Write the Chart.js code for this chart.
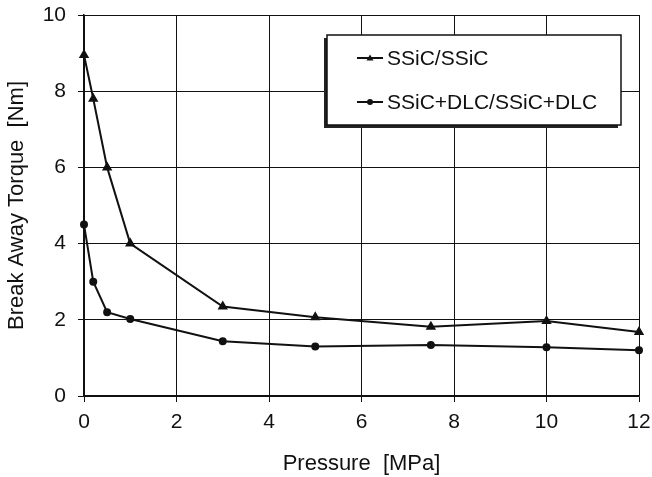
<!DOCTYPE html>
<html>
<head>
<meta charset="utf-8">
<script src="https://cdn.jsdelivr.net/npm/chart.js@4/dist/chart.umd.min.js"></script>
<style>
  html, body { margin: 0; padding: 0; background: #fff; }
  #wrap { width: 652px; height: 477px; }
</style>
</head>
<body>
<div id="wrap"><canvas id="chart" width="652" height="477"></canvas></div>
<script>
// Pressure values [MPa]
const pressure = [0, 0.2, 0.5, 1, 3, 5, 7.5, 10, 12];
// Break away torque [Nm]
const ssic = [8.95, 7.8, 6.0, 4.0, 2.35, 2.07, 1.82, 1.97, 1.68];
const ssicDlc = [4.5, 3.0, 2.2, 2.02, 1.44, 1.3, 1.34, 1.28, 1.2];
const seriesLabels = ['SSiC/SSiC', 'SSiC+DLC/SSiC+DLC'];
const xTicks = [0, 2, 4, 6, 8, 10, 12];
const yTicks = [0, 2, 4, 6, 8, 10];

const FONT = '"Liberation Sans", Arial, sans-serif';
const INK = '#111';

// Boxed legend inside the plot, drawn from the dataset labels
const boxLegend = {
    id: 'boxLegend',
    afterDraw(chart) {
        const ctx = chart.ctx;
        const x0 = 327, y0 = 35, w = 294, h = 90;
        ctx.save();
        ctx.fillStyle = '#222';
        ctx.fillRect(x0 - 3, y0 + 3, w, h);
        ctx.fillStyle = '#fff';
        ctx.fillRect(x0, y0, w, h);
        ctx.strokeStyle = INK;
        ctx.lineWidth = 1.5;
        ctx.strokeRect(x0, y0, w, h);
        chart.data.datasets.forEach((ds, i) => {
            const y = 58 + i * 44;
            ctx.strokeStyle = INK;
            ctx.lineWidth = 2;
            ctx.beginPath();
            ctx.moveTo(357, y);
            ctx.lineTo(383, y);
            ctx.stroke();
            ctx.fillStyle = INK;
            ctx.beginPath();
            if (ds.pointStyle === 'triangle') {
                ctx.moveTo(370, y - 3.5);
                ctx.lineTo(373.5, y + 2.5);
                ctx.lineTo(366.5, y + 2.5);
                ctx.closePath();
            } else {
                ctx.arc(370, y, 3, 0, Math.PI * 2);
            }
            ctx.fill();
            ctx.font = '21px ' + FONT;
            ctx.textBaseline = 'middle';
            ctx.fillText(ds.label, 387, y + 1);
        });
        ctx.restore();
    }
};

const ctx = document.getElementById('chart').getContext('2d');
new Chart(ctx, {
    type: 'line',
    data: {
        datasets: [
            {
                label: seriesLabels[0],
                data: pressure.map((p, i) => ({ x: p, y: ssic[i] })),
                borderColor: INK,
                backgroundColor: INK,
                borderWidth: 2,
                pointStyle: 'triangle',
                pointRadius: 4,
                tension: 0,
                clip: false
            },
            {
                label: seriesLabels[1],
                data: pressure.map((p, i) => ({ x: p, y: ssicDlc[i] })),
                borderColor: INK,
                backgroundColor: INK,
                borderWidth: 2,
                pointStyle: 'circle',
                pointRadius: 3,
                tension: 0,
                clip: false
            }
        ]
    },
    options: {
        responsive: false,
        animation: false,
        layout: { padding: { top: 15, right: 13, left: 0, bottom: 0 } },
        plugins: {
            legend: { display: false },
            tooltip: { enabled: false }
        },
        scales: {
            x: {
                type: 'linear',
                min: 0,
                max: 12,
                afterBuildTicks: s => { s.ticks = xTicks.map(v => ({ value: v })); },
                afterFit: s => { s.height = 81; s.paddingLeft = 0; s.paddingRight = 0; },
                grid: { color: INK, lineWidth: 1, tickLength: 6, tickColor: INK },
                border: { color: INK, width: 1.5 },
                ticks: { color: INK, font: { family: FONT, size: 21 }, padding: 8, maxRotation: 0 },
                title: {
                    display: true,
                    text: 'Pressure  [MPa]',
                    color: INK,
                    font: { family: FONT, size: 22 },
                    padding: { top: 0, bottom: 0 }
                }
            },
            y: {
                min: 0,
                max: 10,
                afterBuildTicks: s => { s.ticks = yTicks.map(v => ({ value: v })); },
                afterFit: s => { s.width = 84; s.paddingTop = 0; s.paddingBottom = 0; },
                grid: { color: INK, lineWidth: 1, tickLength: 6, tickColor: INK },
                border: { color: INK, width: 1.5 },
                ticks: { color: INK, font: { family: FONT, size: 21 }, padding: 12 },
                title: {
                    display: true,
                    text: 'Break Away Torque  [Nm]',
                    color: INK,
                    font: { family: FONT, size: 22 },
                    padding: { top: 4, bottom: 0 }
                }
            }
        }
    },
    plugins: [boxLegend]
});
</script>
</body>
</html>
